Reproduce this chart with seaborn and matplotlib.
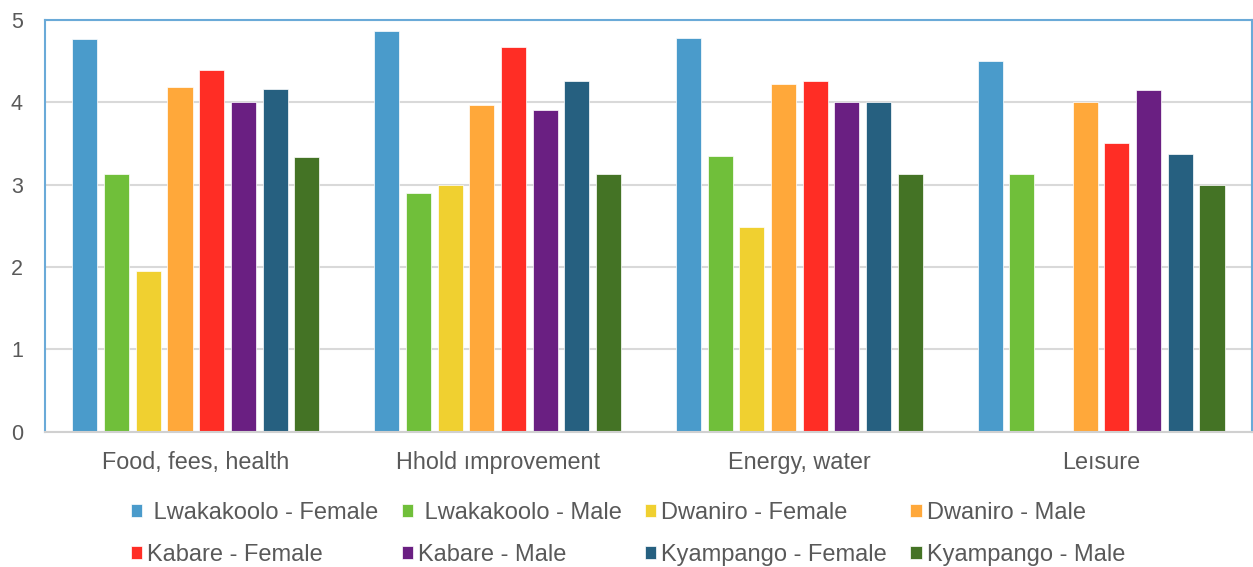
import matplotlib
matplotlib.use("Agg")
import matplotlib.pyplot as plt
import numpy as np
import pandas as pd
import seaborn as sns

categories = ["Food, fees, health", "Hhold ımprovement", "Energy, water", "Leısure"]
series = [
    " Lwakakoolo - Female", " Lwakakoolo - Male",
    "Dwaniro - Female", "Dwaniro - Male",
    "Kabare - Female", "Kabare - Male",
    "Kyampango - Female", "Kyampango - Male",
]
lwakakoolo_female = [4.76, 4.86, 4.78, 4.50]
lwakakoolo_male = [3.13, 2.90, 3.35, 3.13]
dwaniro_female = [1.95, 3.00, 2.49, np.nan]
dwaniro_male = [4.18, 3.96, 4.22, 4.00]
kabare_female = [4.39, 4.67, 4.25, 3.50]
kabare_male = [4.00, 3.90, 4.00, 4.15]
kyampango_female = [4.16, 4.25, 4.00, 3.37]
kyampango_male = [3.33, 3.13, 3.13, 3.00]

colors = ["#4A9BCB", "#70BF3A", "#F0D030", "#FFA83A",
          "#FF2D25", "#6A1F82", "#266080", "#447325"]

values = [lwakakoolo_female, lwakakoolo_male, dwaniro_female, dwaniro_male,
          kabare_female, kabare_male, kyampango_female, kyampango_male]
rows = []
for name, vals in zip(series, values):
    for cat, v in zip(categories, vals):
        rows.append({"category": cat, "series": name, "value": v})
df = pd.DataFrame(rows).dropna()

sns.set_theme(style="white")
plt.rcParams["font.family"] = ["Liberation Sans", "DejaVu Sans"]

fig = plt.figure(figsize=(12.53, 5.67), dpi=100)
ax = fig.add_axes([0.0359, 0.2381, 0.9633, 0.7275])

sns.barplot(data=df, x="category", y="value", hue="series",
            order=categories, hue_order=series, palette=colors,
            width=0.84, dodge=True, errorbar=None, saturation=1,
            edgecolor="white", linewidth=0.5, ax=ax)

# narrow each bar around its slot centre so neighbouring bars are separated
bar_w = 0.083
for cont in ax.containers:
    for p in cont.patches:
        c = p.get_x() + p.get_width() / 2
        p.set_width(bar_w)
        p.set_x(c - bar_w / 2)

ax.set_xlim(-0.5, 3.5)
ax.set_ylim(0, 5)
ax.set_yticks([0, 1, 2, 3, 4, 5])
ax.set_xlabel("")
ax.set_ylabel("")
ax.yaxis.grid(True, color="#D9D9D9", linewidth=1.5)
ax.set_axisbelow(True)
ax.tick_params(axis="y", length=0, pad=16, labelsize=15.5, labelcolor="#595959")
ax.tick_params(axis="x", length=0, pad=14, labelsize=16.8, labelcolor="#595959")

for s in ["left", "right", "top"]:
    ax.spines[s].set_color("#6AAAD8")
    ax.spines[s].set_linewidth(1.5)
ax.spines["bottom"].set_color("#D0D0D0")
ax.spines["bottom"].set_linewidth(1.5)

handles, labels = ax.get_legend_handles_labels()
ax.legend_.remove()
# legend fills column by column; reorder so entries read across each row
order = [0, 4, 1, 5, 2, 6, 3, 7]
fig.legend([handles[i] for i in order], [labels[i] for i in order],
           loc="center", bbox_to_anchor=(0.501, 0.058),
           ncol=4, frameon=False, fontsize=17, labelcolor="#595959",
           handlelength=0.48, handleheight=0.48, handletextpad=0.2,
           columnspacing=1.0, labelspacing=0.86)

fig.savefig("out.png", dpi=100)
